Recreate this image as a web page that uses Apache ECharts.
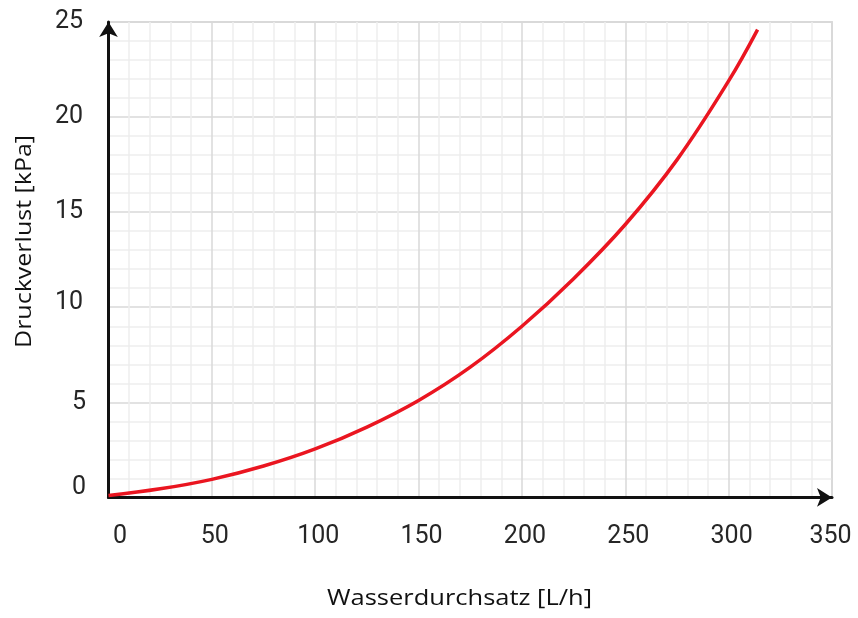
<!DOCTYPE html>
<html>
<head>
<meta charset="utf-8">
<script src="https://cdn.jsdelivr.net/npm/echarts@6/dist/echarts.min.js"></script>
<style>html,body{margin:0;padding:0;background:#fff}#c{width:858px;height:618px}</style>
</head>
<body>
<div id="c"></div>
<script>
// Data
const flow = [0, 25, 50, 75, 100, 125, 150, 175, 200, 225, 250, 275, 300, 314];
const pressureLoss = [0.1, 0.45, 0.95, 1.65, 2.55, 3.7, 5.1, 6.85, 9.0, 11.5, 14.35, 17.75, 21.9, 24.6];
const xTicks = [0, 50, 100, 150, 200, 250, 300, 350];
const yTicks = [0, 5, 10, 15, 20, 25];
const xTitle = 'Wasserdurchsatz [L/h]';
const yTitle = 'Druckverlust [kPa]';

const titleFont = '"Open Sans"';
const titleSize = 22;
const ctx = document.createElement('canvas').getContext('2d');
ctx.font = titleSize + 'px ' + titleFont;
const xScale = 265 / ctx.measureText(xTitle).width;
const yScale = 213 / ctx.measureText(yTitle).width;

const chart = echarts.init(document.getElementById('c'), null, {renderer: 'canvas'});
const tf = {fontFamily: 'Roboto', fontSize: 25, color: '#262626'};
const rs = (pad) => Object.assign({padding: pad}, tf);
chart.setOption({
  animation: false,
  grid: {left: 108.5, right: 26, top: 22, bottom: 120.6, show: true, borderColor: '#dcdcdc', borderWidth: 2, containLabel: false},
  xAxis: {
    type: 'value', min: xTicks[0], max: xTicks[xTicks.length - 1], interval: 50,
    axisLine: {show: true, symbol: ['none', 'arrow'], symbolSize: [14, 15], lineStyle: {color: '#111', width: 3}},
    axisTick: {show: false},
    axisLabel: Object.assign({
      margin: 27,
      formatter: v => v === xTicks[0] ? '{z|' + v + '}' : (v === xTicks[xTicks.length - 1] ? '{e|' + v + '}' : '{n|' + v + '}'),
      rich: {z: rs([0, 0, 0, 23]), n: rs([0, 0, 0, 6]), e: rs([0, 3, 0, 0])}
    }, tf),
    splitLine: {show: true, lineStyle: {color: '#d9d9d9', width: 1.5}},
    minorTick: {show: false, splitNumber: 5},
    minorSplitLine: {show: true, lineStyle: {color: '#eeeeee', width: 1.5}}
  },
  yAxis: {
    type: 'value', min: yTicks[0], max: yTicks[yTicks.length - 1], interval: 5,
    axisLine: {show: true, symbol: ['none', 'arrow'], symbolSize: [14, 15], lineStyle: {color: '#111', width: 3}},
    axisTick: {show: false},
    axisLabel: Object.assign({
      margin: 22.5,
      formatter: v => v === 0 ? '{z|0}' : (v === 10 ? '{t|10}' : (v < 10 ? '{s|' + v + '}' : '{d|' + v + '}')),
      rich: {z: rs([0, 0, 20, 0]), s: rs([0, 0, 0, 0]), t: rs([0, 3, 8, 0]), d: rs([0, 3, 0, 0])}
    }, tf),
    splitLine: {show: true, lineStyle: {color: '#d9d9d9', width: 1.5}},
    minorTick: {show: false, splitNumber: 5},
    minorSplitLine: {show: true, lineStyle: {color: '#eeeeee', width: 1.5}}
  },
  graphic: [
    {type: 'text', x: 459.5, y: 599, scaleX: xScale, style: {text: xTitle, x: 0, y: 0, textAlign: 'center', textVerticalAlign: 'middle', fontFamily: titleFont, fontSize: titleSize, fill: '#111'}},
    {type: 'text', x: 24.5, y: 241.5, rotation: Math.PI / 2, scaleX: yScale, style: {text: yTitle, x: 0, y: 0, textAlign: 'center', textVerticalAlign: 'middle', fontFamily: titleFont, fontSize: titleSize, fill: '#111'}}
  ],
  series: [{
    type: 'line', smooth: 0.4, showSymbol: false, clip: false,
    data: flow.map((f, i) => [f, pressureLoss[i]]),
    lineStyle: {color: '#ea1520', width: 3.5}
  }]
});
</script>
</body>
</html>
